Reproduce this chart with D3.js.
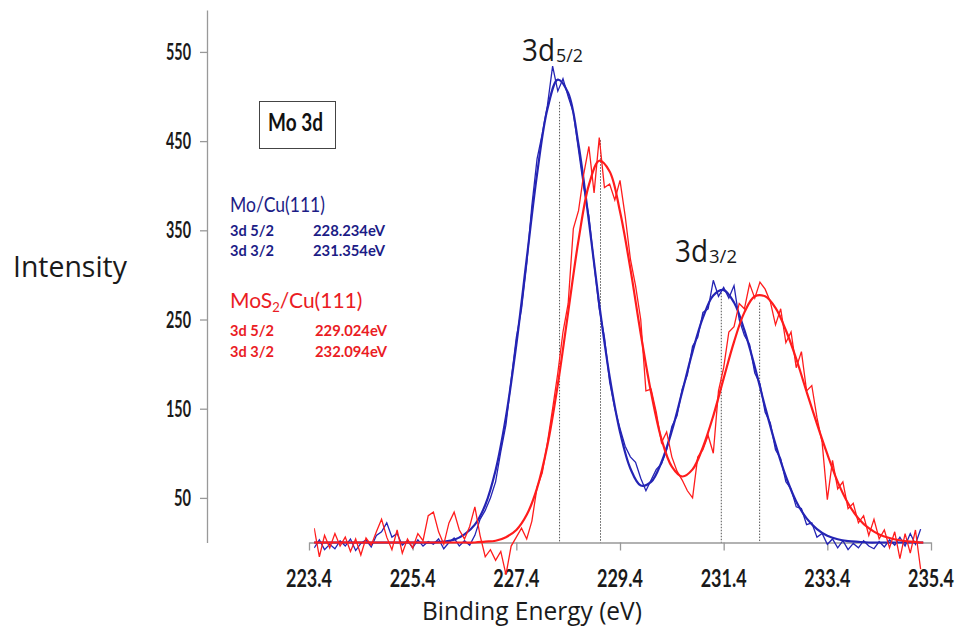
<!DOCTYPE html>
<html><head><meta charset="utf-8">
<script src="https://cdn.jsdelivr.net/npm/d3@7"></script>
<style>body{margin:0;background:#fff}</style>
</head><body>
<svg id="c" width="961" height="637"></svg>
<script>
// ---------- data ----------
const fitStart = 223.4, fitStep = 0.2;
const blueFit = [0,0,0,0,0,0,0,0,0,0,0,0,0,
  1,3,9,20,42,81,141,222,318,413,486,519,504,446,360,267,186,124,83,64,68,90,125,169,214,252,277,283,269,238,197,152,110,74,46,27,15,7.5,3.6,1.6,0.7,0,
  0,0,0,0,0,0];
const redFit = [0,0,0,0,0,0,0,0,0,0,0,0,0,0,0,0,0,
  1,2,6,14,31,61,109,177,258,339,401,428,416,371,307,234,168,116,85,74,82,107,142,184,225,258,276,276,263,238,206,169,133,99,68,44,27,16,9,5,2.5,1,0,0];
const rawStart = 223.5, rawStep = 0.1;
const blueRaw = [
  -6,3,-8,-2,-7,2,-4,4,-9,-1,
  3,-5,8,12,22,6,10,-3,2,-6,
  3,-4,1,-2,4,-7,0,5,-4,2,
  -3,8,26,36,50,68,102,132,182,230,
  262,312,378,430,458,490,534,506,520,500,
  482,440,398,366,312,262,230,180,150,128,
  108,96,90,72,58,70,82,88,104,130,
  142,172,188,220,230,258,262,294,276,286,
  274,288,250,232,222,190,178,146,134,104,
  94,68,60,40,38,20,22,6,10,-2,
  4,-6,2,-8,-1,-6,2,-4,-7,1,
  -5,3,-3,6,-4,10,-2,15];
const redRaw = [
  16,-16,8,-6,10,-4,6,-10,4,-14,
  5,-3,12,26,6,-8,14,-12,4,-6,
  10,2,30,34,12,-2,22,34,14,4,
  18,40,8,-16,-8,-20,-10,-36,-4,6,
  16,4,24,62,78,112,150,190,236,268,
  352,372,413,444,392,454,398,402,384,406,
  366,318,288,250,170,172,146,112,124,96,
  80,70,58,50,96,104,120,100,170,196,
  236,242,268,262,290,274,292,284,270,244,
  262,224,236,196,214,170,176,140,112,48,
  92,60,68,38,44,22,30,8,26,4,
  14,-6,12,-18,10,-12,14,-30];
const xTicks = [223.4,225.4,227.4,229.4,231.4,233.4,235.4];
const yTicks = [50,150,250,350,450,550];
const peakEnergies = [228.234,229.024,231.354,232.094];
const peakTops = [494,451,280,269];
const seriesNames = ["Mo/Cu(111)","MoS2/Cu(111)"];
const legendRows = [["3d 5/2","228.234eV"],["3d 3/2","231.354eV"],["3d 5/2","229.024eV"],["3d 3/2","232.094eV"]];

// ---------- chart ----------
const BLUE = "#2424b4", RED = "#ff1c1c", BLUE_T = "#1c1c86", RED_T = "#ea1c24";
const svg = d3.select("#c");
const x = d3.scaleLinear().domain([223.4,235.4]).range([309,931]);
const y = d3.scaleLinear().domain([0,597]).range([542.5,10]);

// text narrowed horizontally to a target width (condensed look of the original font)
function label(g, str, px, py, size, len, o={}) {
  const t = g.append("text").attr("x",0).attr("y",0)
    .attr("font-size",size).attr("font-family",o.family||"Lato, 'Open Sans', sans-serif")
    .attr("font-weight",o.weight||"normal").attr("fill",o.fill||"#1a1a1a")
    .attr("text-anchor",o.anchor||"start").text(str);
  let sx = 1;
  if (len) { const w = t.node().getComputedTextLength(); if (w > 0) sx = len / w; }
  t.attr("transform",`translate(${px},${py}) scale(${sx},1)`);
  return t;
}

// axes
const xAxis = svg.append("g").attr("transform",`translate(0,${y(0)})`)
  .call(d3.axisBottom(x).tickValues(xTicks).tickSize(8).tickSizeOuter(0).tickFormat(d3.format(".1f")));
xAxis.select(".domain").attr("stroke","#999").attr("stroke-width",1.3);
xAxis.selectAll(".tick line").attr("stroke","#999").attr("stroke-width",1.3);
xAxis.selectAll(".tick text").remove();
xTicks.forEach(v => label(svg, d3.format(".1f")(v), x(v), 587, 25, 46, {anchor:"middle", weight:"bold"}));

const yAxis = svg.append("g").attr("transform","translate(207,0)")
  .call(d3.axisLeft(y).tickValues(yTicks).tickSize(7).tickSizeOuter(0));
yAxis.select(".domain").attr("stroke","#999").attr("stroke-width",1.3);
yAxis.selectAll(".tick line").attr("stroke","#999").attr("stroke-width",1.3);
yAxis.selectAll(".tick text").remove();
yTicks.forEach(v => label(svg, String(v), 191, y(v)+8, 22, v<100?17:25, {anchor:"end", weight:"bold"}));

label(svg, "Intensity", 13, 277, 29, 114, {family:"'Open Sans', sans-serif"});
label(svg, "Binding Energy (eV)", 422, 620, 26, 220, {family:"'Open Sans', sans-serif"});

// dotted peak markers
svg.append("g").selectAll("line").data(peakEnergies).join("line")
  .attr("x1",d=>x(d)).attr("x2",d=>x(d))
  .attr("y1",(d,i)=>y(peakTops[i])).attr("y2",y(0))
  .attr("stroke","#555").attr("stroke-width",1).attr("stroke-dasharray","1.5,1.5");

// curves
svg.append("defs").append("clipPath").attr("id","clip").append("rect")
  .attr("x",x(223.5)).attr("y",0).attr("width",x(235.25)-x(223.5)).attr("height",637);
const plot = svg.append("g").attr("clip-path","url(#clip)");
const fitLine = d3.line().x((d,i)=>x(fitStart+i*fitStep)).y(d=>y(d)).curve(d3.curveCatmullRom.alpha(0.5));
const rawLine = d3.line().x((d,i)=>x(rawStart+i*rawStep)).y(d=>y(d));
plot.append("path").attr("d",rawLine(blueRaw)).attr("fill","none").attr("stroke",BLUE).attr("stroke-width",1.3);
plot.append("path").attr("d",fitLine(blueFit)).attr("fill","none").attr("stroke",BLUE).attr("stroke-width",2.2);
plot.append("path").attr("d",rawLine(redRaw)).attr("fill","none").attr("stroke",RED).attr("stroke-width",1.3);
plot.append("path").attr("d",fitLine(redFit)).attr("fill","none").attr("stroke",RED).attr("stroke-width",2.2);

// peak labels
label(svg, "3d", 522, 61, 31, 33, {family:"'Open Sans', sans-serif"});
label(svg, "5/2", 556, 62, 19, 27, {family:"'Open Sans', sans-serif"});
label(svg, "3d", 675, 262, 31, 33, {family:"'Open Sans', sans-serif"});
label(svg, "3/2", 709, 263, 19, 28, {family:"'Open Sans', sans-serif"});

// Mo 3d box
svg.append("rect").attr("x",259.5).attr("y",101.5).attr("width",76).attr("height",47)
  .attr("fill","none").attr("stroke","#444").attr("stroke-width",1);
label(svg, "Mo 3d", 268, 131, 25, 55, {weight:"bold", fill:"#111"});

// legend
label(svg, seriesNames[0], 230, 212, 21, 95, {fill:BLUE_T});
label(svg, legendRows[0][0], 230, 236, 16, 44, {fill:BLUE_T, weight:"bold"});
label(svg, legendRows[0][1], 313, 236, 16, 72, {fill:BLUE_T, weight:"bold"});
label(svg, legendRows[1][0], 230, 256, 16, 44, {fill:BLUE_T, weight:"bold"});
label(svg, legendRows[1][1], 313, 256, 16, 72, {fill:BLUE_T, weight:"bold"});
const t2 = svg.append("text").attr("x",230).attr("y",308).attr("font-size",21)
  .attr("font-family","Lato, 'Open Sans', sans-serif").attr("fill",RED_T);
t2.append("tspan").text("MoS");
t2.append("tspan").attr("font-size",13).attr("dy",4).text("2");
t2.append("tspan").attr("dy",-4).text("/Cu(111)");
label(svg, legendRows[2][0], 230, 336, 16, 44, {fill:RED_T, weight:"bold"});
label(svg, legendRows[2][1], 315, 336, 16, 72, {fill:RED_T, weight:"bold"});
label(svg, legendRows[3][0], 230, 357, 16, 44, {fill:RED_T, weight:"bold"});
label(svg, legendRows[3][1], 315, 357, 16, 72, {fill:RED_T, weight:"bold"});
</script>
</body></html>
